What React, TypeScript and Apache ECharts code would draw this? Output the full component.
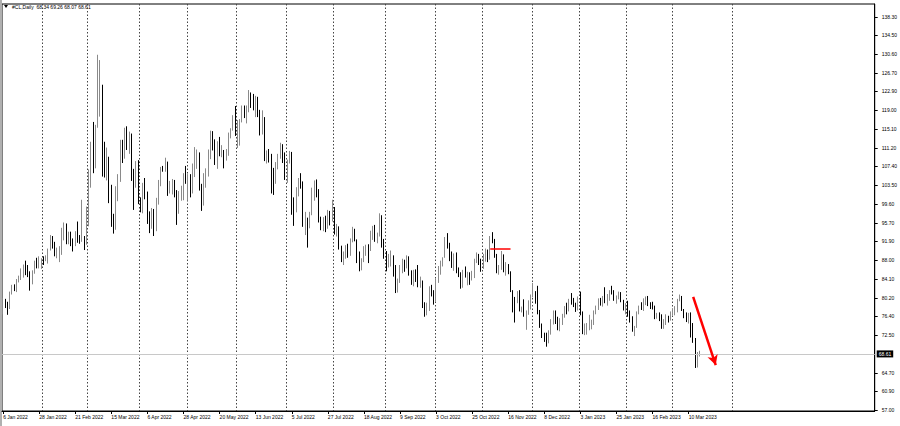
import React, { useEffect, useRef } from "react";
import * as echarts from "echarts";

// ---- data ----
const SYMBOL = "#CL,Daily";
const START_DATE = [2022, 0, 6];
const SKIPPED_DAYS = ["2022-12-26", "2023-01-02"];
const TOTAL_SLOTS = 387;
const LABEL_EVERY = 16;
const MONTHS = ["Jan", "Feb", "Mar", "Apr", "May", "Jun", "Jul", "Aug", "Sep", "Oct", "Nov", "Dec"];

const opens = [
  77.8, 79.5, 78.9, 78.2, 81.2, 82.6, 82.1, 83.8, 84.3, 85.4, 86.9, 86.8, 85.1, 83.3, 85.6, 87.3, 86.6, 86.8,
  88.2, 88.1, 88.3, 90.3, 92.3, 91.3, 89.4, 89.7, 89.9, 93.1, 95.5, 92.1, 93.7, 91.8, 91.1, 93.5, 92.4, 92.1, 92.8, 91.6,
  95.7, 103.4, 110.6, 107.7, 118.0, 119.4, 123.7, 108.7, 106.0, 109.3, 103.0, 96.4, 95.0, 103.0, 104.7, 112.1, 109.3, 114.9, 112.3, 113.9, 106.0, 104.2, 107.8,
  100.3, 99.3, 103.3, 102.0, 96.2, 96.0, 98.3, 94.3, 100.6, 104.3, 107.0, 106.8, 108.2, 102.6, 102.8, 103.8, 102.1, 98.5, 101.7, 102.0, 105.4,
  104.7, 105.2, 102.4, 107.8, 108.3, 109.8, 103.1, 99.8, 105.7, 106.1, 110.5, 114.2, 112.4, 109.6, 112.2, 110.3, 110.4, 109.8, 110.3, 114.1, 115.1, 117.0,
  114.7, 115.3, 116.9, 118.9, 118.5, 119.4, 122.1, 121.5, 120.7, 120.9, 118.9, 115.3, 117.6, 109.6, 110.0, 109.5, 106.2, 104.3, 107.6, 109.6, 111.8, 109.8,
  105.8, 108.4, 110.3, 99.5, 98.5, 102.7, 104.8, 104.1, 95.8, 96.3, 95.8, 97.6, 102.6, 104.2, 102.3, 96.4, 94.7, 96.7, 95.0, 97.3, 96.4,
  98.6, 93.9, 94.4, 90.7, 88.5, 89.0, 90.8, 90.5, 91.9, 94.3, 92.1, 89.4, 86.5, 88.1, 90.5, 90.8, 90.2, 93.7, 94.9, 92.5, 93.1, 97.0, 91.6,
  89.6, 86.6, 86.9, 88.2, 86.9, 81.9, 83.5, 86.8, 87.8, 87.3, 88.5, 85.1, 85.0, 85.7, 84.5, 82.9, 83.5, 78.7, 76.7, 78.5, 82.2, 81.2,
  79.5, 83.6, 86.5, 87.8, 88.5, 92.6, 91.1, 89.4, 87.3, 89.1, 85.6, 85.5, 82.8, 85.6, 84.5, 85.1, 84.6, 85.3, 87.9, 89.1, 87.9,
  86.5, 88.4, 90.0, 88.2, 92.6, 91.8, 88.9, 85.8, 86.5, 89.0, 85.9, 86.9, 85.6, 81.6, 80.1, 79.7, 81.0, 77.9, 78.1, 76.3, 77.2, 78.2,
  80.6, 81.2, 80.0, 76.9, 74.3, 72.0, 71.5, 71.0, 73.2, 75.4, 77.3, 76.1, 74.3, 75.2, 76.2, 78.3, 77.5, 79.6, 79.5, 79.0, 78.4,
  80.3, 76.9, 72.8, 73.7, 73.8, 74.6, 75.1, 77.4, 78.4, 79.9, 79.7, 80.2, 79.5, 80.3, 81.6, 81.5, 80.1, 80.2, 81.0, 79.7, 77.9,
  78.9, 76.4, 75.9, 73.4, 74.1, 77.1, 78.5, 78.1, 79.7, 80.1, 79.1, 78.6, 78.5, 76.3, 76.6, 76.4, 74.0, 75.4, 76.3, 75.7,
  77.1, 77.7, 78.2, 79.7, 80.5, 77.6, 76.7, 75.7, 76.7, 74.8, 71.3, 67.6, 68.34,
];
const highs = [
  80.2, 80.0, 79.4, 81.5, 82.9, 83.0, 84.1, 84.8, 86.3, 87.1, 87.9, 87.0, 85.7, 85.9, 87.9, 88.5, 88.8, 88.4,
  88.8, 89.0, 90.4, 93.2, 93.0, 91.8, 90.6, 90.9, 94.7, 95.8, 95.6, 93.9, 93.9, 92.5, 94.0, 96.0, 93.2, 100.5, 93.0, 99.1,
  106.8, 112.5, 116.6, 116.0, 130.5, 129.4, 124.3, 112.5, 111.3, 109.4, 103.6, 97.6, 103.3, 105.8, 112.9, 112.9, 115.4, 115.7, 114.6, 114.2, 106.9, 108.5, 108.7,
  101.0, 104.0, 105.0, 102.2, 98.1, 98.8, 98.6, 100.9, 104.6, 107.3, 107.5, 109.2, 108.4, 104.4, 104.8, 104.6, 102.5, 102.3, 103.4, 106.0, 107.5,
  105.8, 105.8, 108.0, 111.4, 110.9, 110.3, 103.8, 106.0, 107.0, 110.9, 114.8, 114.7, 113.0, 112.6, 113.5, 111.8, 110.8, 111.0, 114.4, 115.3, 118.0, 119.9,
  117.0, 117.2, 120.0, 120.0, 120.0, 123.2, 122.7, 122.4, 122.0, 121.8, 119.1, 119.0, 117.6, 110.7, 111.0, 110.0, 107.1, 108.3, 110.0, 112.3, 112.0, 110.3,
  108.8, 110.6, 110.4, 101.0, 103.1, 105.0, 106.0, 104.3, 98.0, 96.8, 98.0, 103.0, 104.5, 104.7, 102.7, 97.0, 96.9, 97.2, 98.4, 98.2, 100.5,
  99.0, 95.5, 95.0, 91.0, 89.8, 91.1, 91.4, 92.5, 94.9, 94.5, 92.3, 89.8, 88.4, 90.9, 91.2, 91.3, 94.1, 95.1, 95.3, 93.7, 97.7, 97.3, 92.4,
  89.9, 89.3, 90.0, 89.0, 87.0, 84.2, 87.0, 88.3, 88.1, 89.0, 88.8, 85.9, 86.0, 86.1, 87.0, 84.6, 83.8, 79.3, 79.2, 82.6, 82.9, 81.8,
  84.2, 86.8, 87.9, 88.6, 92.8, 93.6, 91.6, 89.8, 89.4, 89.6, 86.5, 85.5, 86.0, 86.7, 85.6, 85.5, 85.8, 88.3, 89.6, 89.3, 88.3,
  89.3, 90.4, 90.2, 93.0, 93.8, 92.4, 89.3, 87.0, 89.9, 89.2, 87.6, 87.2, 85.7, 81.8, 80.4, 81.6, 81.8, 78.4, 79.9, 77.6, 79.7, 80.9,
  83.3, 81.6, 82.7, 77.7, 74.9, 73.0, 73.0, 73.5, 75.8, 77.6, 77.6, 76.3, 76.0, 76.9, 78.5, 79.2, 80.0, 81.2, 80.2, 79.2, 80.5,
  81.5, 77.4, 74.9, 75.0, 76.7, 75.7, 77.6, 78.6, 80.1, 80.2, 80.6, 82.4, 81.0, 81.8, 82.7, 81.8, 80.7, 81.5, 81.4, 79.8,
  79.1, 79.6, 77.6, 76.4, 74.4, 77.4, 78.6, 79.3, 80.1, 80.5, 80.6, 79.3, 79.4, 78.6, 77.1, 77.2, 76.8, 75.8, 76.8, 76.5,
  77.4, 78.0, 78.5, 80.0, 80.9, 80.6, 77.9, 77.2, 77.1, 77.2, 75.0, 71.9, 69.0, 69.26,
];
const lows = [
  76.8, 78.1, 76.7, 77.9, 80.9, 81.6, 81.4, 83.4, 83.9, 84.4, 84.9, 84.5, 81.7, 83.0, 85.2, 86.3, 86.3, 86.2,
  87.0, 87.8, 87.3, 90.0, 90.4, 88.8, 88.4, 87.6, 89.1, 92.1, 91.3, 91.3, 90.9, 89.8, 90.9, 91.6, 91.4, 91.8, 90.1, 91.2,
  95.0, 103.0, 106.0, 107.0, 115.4, 117.7, 105.3, 105.1, 104.5, 99.8, 94.9, 93.5, 94.3, 100.2, 104.2, 108.1, 109.0, 110.8, 110.0, 104.4, 98.4, 103.0, 99.6,
  97.9, 97.7, 100.6, 95.5, 93.6, 94.5, 93.0, 94.0, 99.5, 103.3, 106.3, 106.3, 101.3, 101.8, 101.6, 101.0, 95.3, 97.6, 100.3, 100.4, 103.8,
  100.3, 101.0, 101.8, 105.2, 106.9, 102.4, 98.2, 99.3, 103.0, 105.3, 108.9, 110.7, 107.7, 106.9, 109.5, 109.3, 107.0, 108.6, 109.6, 113.2, 114.8, 113.7,
  111.2, 111.7, 116.5, 117.4, 116.3, 118.6, 119.5, 119.0, 117.6, 117.6, 113.8, 114.0, 108.5, 108.0, 108.2, 101.8, 101.5, 103.8, 106.8, 109.0, 108.1, 104.6,
  104.0, 108.0, 97.4, 95.1, 97.9, 101.2, 102.8, 94.9, 93.2, 90.6, 94.6, 97.3, 100.3, 101.0, 95.8, 94.2, 94.0, 93.8, 94.5, 95.2, 96.0,
  93.3, 92.9, 90.2, 87.6, 87.0, 88.3, 88.5, 88.9, 91.7, 91.9, 87.4, 85.7, 85.9, 87.6, 88.9, 87.4, 89.9, 92.2, 91.8, 91.5, 92.9, 90.6, 88.3,
  85.7, 86.5, 86.7, 84.6, 81.2, 81.3, 83.3, 85.3, 85.6, 86.3, 84.8, 82.9, 82.6, 83.5, 82.4, 82.3, 78.1, 76.3, 76.6, 77.5, 80.5, 78.8,
  79.4, 83.3, 85.0, 86.7, 88.5, 90.4, 87.8, 86.4, 85.8, 85.3, 84.5, 82.1, 82.3, 84.4, 82.8, 82.9, 83.8, 84.3, 87.4, 87.0, 85.6,
  86.2, 87.7, 87.6, 88.1, 91.5, 88.5, 85.3, 85.0, 86.0, 85.5, 84.8, 85.1, 81.4, 77.2, 75.1, 79.1, 77.4, 77.2, 76.3, 73.6, 76.7, 77.8,
  80.3, 79.0, 76.8, 74.0, 71.9, 71.1, 70.1, 70.8, 72.6, 74.7, 74.8, 73.5, 73.3, 74.6, 76.1, 76.8, 77.4, 78.8, 78.3, 77.3, 77.6,
  76.6, 72.7, 72.5, 72.6, 73.5, 73.7, 74.6, 76.8, 77.7, 78.6, 78.4, 79.1, 78.6, 79.6, 80.9, 79.6, 79.0, 79.9, 79.3, 77.6,
  76.8, 76.3, 75.1, 73.2, 72.3, 74.0, 76.8, 77.7, 77.5, 78.7, 78.5, 77.9, 77.8, 75.8, 75.9, 75.4, 73.8, 73.8, 74.6, 75.1,
  75.5, 76.6, 76.6, 77.2, 79.5, 77.5, 76.0, 75.2, 74.9, 72.0, 70.9, 65.7, 65.8, 68.07,
];
const closes = [
  79.4, 78.9, 78.2, 81.2, 82.6, 82.1, 83.8, 84.3, 85.4, 86.9, 86.8, 85.1, 83.3, 85.6, 87.3, 86.6, 86.8, 88.2,
  88.1, 88.3, 90.3, 92.3, 91.3, 89.4, 89.7, 89.9, 93.1, 95.5, 92.1, 93.7, 91.8, 91.1, 93.5, 92.4, 92.1, 92.8, 91.6, 95.7,
  103.4, 110.6, 107.7, 115.7, 119.4, 123.7, 108.7, 106.0, 109.3, 103.0, 96.4, 95.0, 103.0, 104.7, 112.1, 109.3, 114.9, 112.3, 113.9, 106.0, 104.2, 107.8, 100.3,
  99.3, 103.3, 102.0, 96.2, 96.0, 98.3, 94.3, 100.6, 104.3, 107.0, 106.8, 108.2, 102.6, 102.8, 103.8, 102.1, 98.5, 101.7, 102.0, 105.4, 104.7,
  105.2, 102.4, 107.8, 108.3, 109.8, 103.1, 99.8, 105.7, 106.1, 110.5, 114.2, 112.4, 109.6, 112.2, 110.3, 110.4, 109.8, 110.3, 114.1, 115.1, 117.0, 114.7,
  115.3, 116.9, 118.9, 118.5, 119.4, 122.1, 121.5, 120.7, 120.9, 118.9, 115.3, 117.6, 109.6, 110.0, 109.5, 106.2, 104.3, 107.6, 109.6, 111.8, 109.8, 105.8,
  108.4, 110.3, 99.5, 98.5, 102.7, 104.8, 104.1, 95.8, 96.3, 95.8, 97.6, 102.6, 104.2, 102.3, 96.4, 94.7, 96.7, 95.0, 97.3, 96.4, 98.6,
  93.9, 94.4, 90.7, 88.5, 89.0, 90.8, 90.5, 91.9, 94.3, 92.1, 89.4, 86.5, 88.1, 90.5, 90.8, 90.2, 93.7, 94.9, 92.5, 93.1, 97.0, 91.6, 89.6,
  86.6, 86.9, 88.2, 86.9, 81.9, 83.5, 86.8, 87.8, 87.3, 88.5, 85.1, 85.0, 85.7, 84.5, 82.9, 83.5, 78.7, 76.7, 78.5, 82.2, 81.2, 79.5,
  83.6, 86.5, 87.8, 88.5, 92.6, 91.1, 89.4, 87.3, 89.1, 85.6, 85.5, 82.8, 85.6, 84.5, 85.1, 84.6, 85.3, 87.9, 89.1, 87.9, 86.5,
  88.4, 90.0, 88.2, 92.6, 91.8, 88.9, 85.8, 86.5, 89.0, 85.9, 86.9, 85.6, 81.6, 80.1, 79.7, 81.0, 77.9, 78.1, 76.3, 77.2, 78.2, 80.6,
  81.2, 80.0, 76.9, 74.3, 72.0, 71.5, 71.0, 73.2, 75.4, 77.3, 76.1, 74.3, 75.2, 76.2, 78.3, 77.5, 79.6, 79.5, 79.0, 78.4, 80.3,
  76.9, 72.8, 73.7, 73.8, 74.6, 75.1, 77.4, 78.4, 79.9, 79.7, 80.2, 79.5, 80.3, 81.6, 81.5, 80.1, 80.2, 81.0, 79.7, 77.9,
  78.9, 76.4, 75.9, 73.4, 74.1, 77.1, 78.5, 78.1, 79.7, 80.1, 79.1, 78.6, 78.5, 76.3, 76.6, 76.4, 74.0, 75.4, 76.3, 75.7, 77.1,
  77.7, 78.2, 79.7, 80.5, 77.6, 76.7, 75.7, 76.7, 74.8, 71.3, 67.6, 68.3, 68.61,
];

const yTickLabels = [
  "57.00", "60.90", "64.70", "72.50", "76.40", "80.20", "84.10", "88.00", "91.90", "95.70", "99.60",
  "103.50", "107.40", "111.20", "115.10", "119.00", "122.90", "126.70", "130.60", "134.50", "138.30",
];
const Y_MIN = 56.8;
const Y_MAX = 141.0;

const currentPrice = 68.61;
const redLevel = { from: 216, to: 225, price: 90.45 };
const redArrow = { from: [306, 80.4], to: [316, 66.3] };

const FONT = "Liberation Sans, Arial, sans-serif";

function buildDates(barCount: number): Date[] {
  const out: Date[] = [];
  const d = new Date(Date.UTC(START_DATE[0], START_DATE[1], START_DATE[2]));
  while (out.length < barCount) {
    const dow = d.getUTCDay();
    const iso = d.toISOString().slice(0, 10);
    if (dow !== 0 && dow !== 6 && SKIPPED_DAYS.indexOf(iso) < 0) out.push(new Date(d.getTime()));
    d.setUTCDate(d.getUTCDate() + 1);
  }
  const f = new Date(out[out.length - 1].getTime());
  while (out.length < TOTAL_SLOTS) {
    f.setUTCDate(f.getUTCDate() + 1);
    out.push(new Date(f.getTime()));
  }
  return out;
}

export default function App() {
  const ref = useRef<HTMLDivElement>(null);

  useEffect(() => {
    if (!ref.current) return;
    const chart = echarts.init(ref.current, undefined, { renderer: "svg" });
    const barCount = closes.length;
    const dates = buildDates(barCount);
    const cats = dates.map((d) => `${d.getUTCDate()} ${MONTHS[d.getUTCMonth()]} ${d.getUTCFullYear()}`);
    const monthStart = dates.map((d, i) => i > 0 && d.getUTCMonth() !== dates[i - 1].getUTCMonth() && i < barCount + 20);
    const data = closes.map((c, i) => [opens[i], c, lows[i], highs[i]]);
    const yTickValues = yTickLabels.map((s) => parseFloat(s));
    const last = barCount - 1;
    const header = `${SYMBOL}  ${opens[last].toFixed(2)} ${highs[last].toFixed(2)} ${lows[last].toFixed(2)} ${closes[last].toFixed(2)}`;

    chart.setOption({
      animation: false,
      backgroundColor: "#ffffff",
      textStyle: { fontFamily: FONT },
      grid: { left: 2, right: 23, top: 4, bottom: 15, show: true, borderColor: "#000", borderWidth: 1, backgroundColor: "transparent" },
      xAxis: {
        type: "category",
        data: cats,
        boundaryGap: true,
        axisLine: { show: true, lineStyle: { color: "#000", width: 1 } },
        axisTick: {
          show: true,
          alignWithLabel: true,
          length: 3,
          interval: (i: number) => i % LABEL_EVERY === 0 && i < barCount,
          lineStyle: { color: "#000" },
        },
        axisLabel: {
          show: true,
          interval: (i: number) => i % LABEL_EVERY === 0 && i < barCount,
          align: "left",
          fontSize: 5,
          margin: 3,
          color: "#000",
          fontFamily: FONT,
        },
        splitLine: {
          show: true,
          interval: (i: number) => monthStart[i],
          lineStyle: { color: "#444", width: 1, type: [1.5, 2] },
        },
      },
      yAxis: {
        type: "value",
        position: "right",
        min: Y_MIN,
        max: Y_MAX,
        axisLine: { show: true, lineStyle: { color: "#000", width: 1 } },
        axisTick: { show: true, length: 3, customValues: yTickValues, lineStyle: { color: "#000" } },
        axisLabel: {
          show: true,
          customValues: yTickValues,
          formatter: (v: number) => v.toFixed(2),
          fontSize: 5,
          margin: 7,
          color: "#000",
          fontFamily: FONT,
        },
        splitLine: { show: false },
      },
      series: [
        {
          type: "candlestick",
          data,
          barWidth: 1.2,
          itemStyle: {
            color: "#8a8a8a",
            color0: "#000000",
            borderColor: "#8a8a8a",
            borderColor0: "#000000",
            borderWidth: 1,
          },
          markLine: {
            silent: true,
            animation: false,
            symbol: ["none", "none"],
            label: { show: false },
            data: [
              {
                yAxis: currentPrice,
                lineStyle: { color: "#c8c8c8", width: 1, type: "solid" },
                label: {
                  show: true,
                  position: "end",
                  formatter: currentPrice.toFixed(2),
                  color: "#fff",
                  backgroundColor: "#000",
                  fontSize: 5,
                  padding: [1, 2, 1, 2],
                  distance: 2,
                  fontFamily: FONT,
                },
              },
              [
                { coord: [redLevel.from, redLevel.price], lineStyle: { color: "#ff0000", width: 1.5, type: "solid" }, label: { show: false } },
                { coord: [redLevel.to, redLevel.price] },
              ],
              [
                { coord: redArrow.from, symbol: "none", lineStyle: { color: "#ff0000", width: 2.5, type: "solid" }, label: { show: false } },
                { coord: redArrow.to, symbol: "arrow", symbolSize: [8, 10] },
              ],
            ],
          },
        },
      ],
      graphic: [
        { type: "rect", left: 0, top: 0, shape: { width: 2, height: 426 }, style: { fill: "#b0b0b0" }, silent: true },
        { type: "polygon", shape: { points: [[4, 5], [8, 5], [6, 8]] }, style: { fill: "#000" }, silent: true },
        {
          type: "text",
          x: 12,
          y: 7,
          style: { text: header, fontSize: 5, fill: "#000", fontFamily: FONT, verticalAlign: "middle" },
          silent: true,
        },
      ],
    });
    return () => chart.dispose();
  }, []);

  return <div ref={ref} style={{ position: "fixed", left: 0, top: 0, width: 900, height: 426, background: "#fff" }} />;
}
